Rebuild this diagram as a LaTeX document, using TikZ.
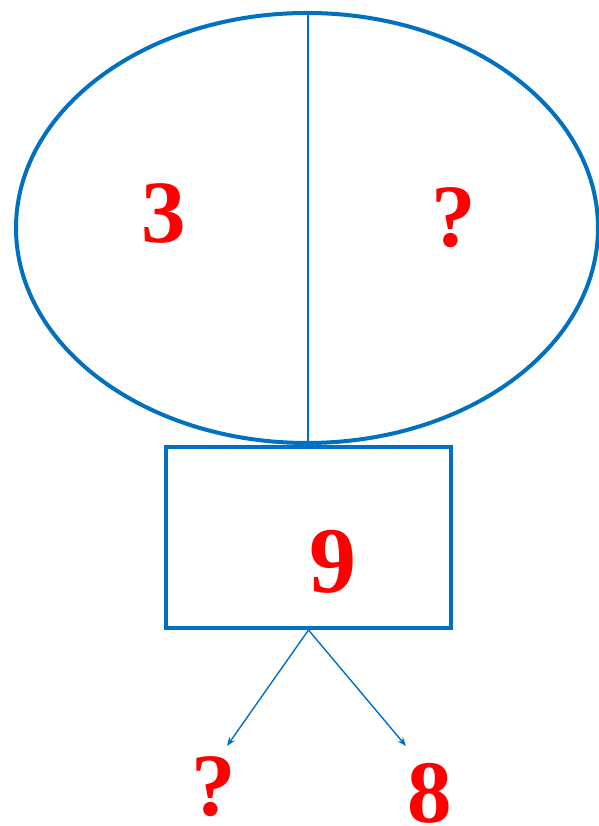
\documentclass[tikz,border=0pt]{standalone}
\usepackage{fontspec}
\setmainfont{Liberation Serif}
\usetikzlibrary{arrows.meta}
\definecolor{lineblue}{HTML}{0070C0}
\definecolor{numred}{HTML}{FF0000}
\begin{document}
\begin{tikzpicture}[x=1pt,y=1pt,
  num/.style={text=numred, font=\fontsize{89}{89}\selectfont\bfseries, inner sep=0pt, anchor=base},
  thick line/.style={draw=lineblue, line width=4pt},
  thin line/.style={draw=lineblue, line width=1.8pt},
  arr/.style={draw=lineblue, line width=1.4pt, -{Stealth[length=9pt,width=7pt,inset=3pt]}}]
\useasboundingbox (0,0) rectangle (598,826);
% ellipse
\draw[thick line] (307,598) ellipse [x radius=291, y radius=215];
\coordinate (etop) at (308,813);
\coordinate (ebot) at (308,383);
\draw[thin line] (etop) -- (ebot);
% rectangle
\node[thick line, minimum width=285pt, minimum height=181pt, inner sep=0pt] (box) at (308.5,288.5) {};
% texts
\node[num] (three) at (164,583) {3};
\node[num] (q1) at (454,579) {?};
\node[num, font=\fontsize{94}{94}\selectfont\bfseries] (nine) at (333,233) {9};
\node[num] (q2) at (214,10) {?};
\node[num] (eight) at (430,3) {8};
% arrows
\coordinate (l) at (227,80);
\coordinate (r) at (406,80);
\draw[arr] (box.south) -- (l);
\draw[arr] (box.south) -- (r);
\end{tikzpicture}
\end{document}
